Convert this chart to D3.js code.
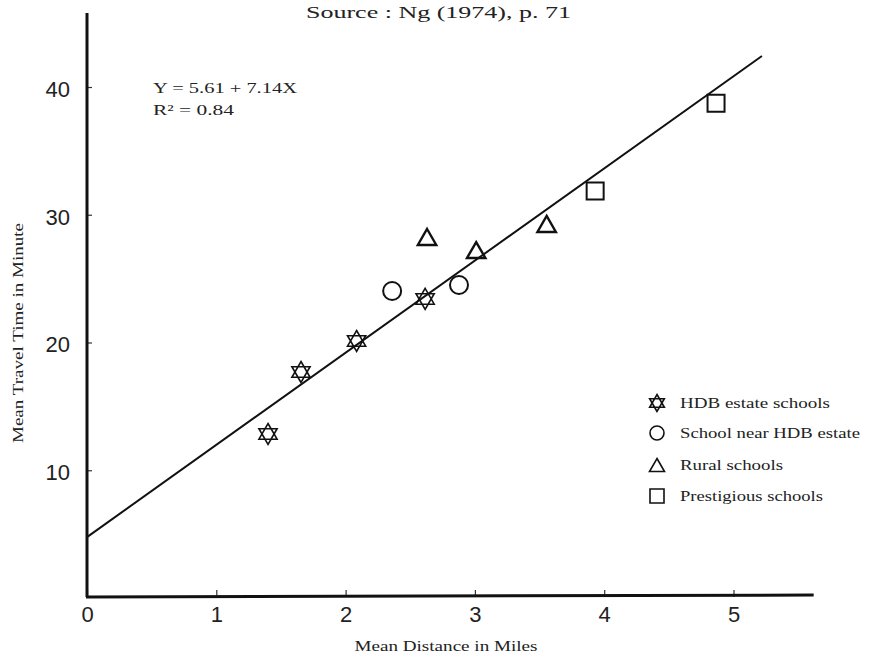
<!DOCTYPE html>
<html><head><meta charset="utf-8">
<script src="https://cdn.jsdelivr.net/npm/d3@7"></script>
<style>
body{margin:0;background:#fff;}
svg{display:block;}
</style></head>
<body>
<svg id="chart" width="869" height="659"></svg>
<script>
// ---- data ----
const xTicks = [0, 1, 2, 3, 4, 5];
const yTicks = [10, 20, 30, 40];
const hdbX = [1.40, 1.655, 2.085, 2.615];
const hdbY = [12.84, 17.69, 20.12, 23.41];
const nearX = [2.36, 2.877];
const nearY = [24.03, 24.5];
const ruralX = [2.63, 3.01, 3.555];
const ruralY = [28.26, 27.24, 29.28];
const prestX = [3.93, 4.865];
const prestY = [31.86, 38.72];
const fitX = [0, 5.22];
const fitY = [4.77, 42.43];
const legendNames = ["HDB estate schools", "School near HDB estate", "Rural schools", "Prestigious schools"];
const titleText = "Source : Ng (1974), p. 71";
const eqLines = ["Y = 5.61 + 7.14X", "R² = 0.84"];
const xTitle = "Mean Distance in Miles";
const yTitle = "Mean Travel Time in Minute";

// ---- layout ----
const svg = d3.select("#chart");
const x = d3.scaleLinear().domain([0, 5]).range([87, 733.5]);
const y = d3.scaleLinear().domain([0, 40]).range([598, 87]);
const serif = "'Liberation Serif', 'Times New Roman', serif";
const sans = "'Liberation Sans', Arial, sans-serif";

// custom symbols
const hexagram = {
  draw(ctx, size) {
    const r = Math.sqrt(size);
    for (const rot of [-Math.PI / 2, Math.PI / 2]) {
      for (let i = 0; i < 3; i++) {
        const a = rot + i * 2 * Math.PI / 3;
        const px = r * Math.cos(a), py = r * Math.sin(a);
        if (i === 0) ctx.moveTo(px, py); else ctx.lineTo(px, py);
      }
      ctx.closePath();
    }
  }
};
const triBox = {
  draw(ctx, size) {
    const w = Math.sqrt(size);
    const h = w * 0.866;
    ctx.moveTo(0, -h / 2);
    ctx.lineTo(w / 2, h / 2);
    ctx.lineTo(-w / 2, h / 2);
    ctx.closePath();
  }
};
const sq = {
  draw(ctx, size) {
    const w = Math.sqrt(size);
    ctx.rect(-w / 2, -w / 2, w, w);
  }
};
const circ = {
  draw(ctx, size) {
    const r = Math.sqrt(size) / 2;
    ctx.moveTo(r, 0);
    ctx.arc(0, 0, r, 0, 2 * Math.PI);
  }
};

const series = [
  {xs: hdbX, ys: hdbY, type: hexagram, size: 110, lsize: 72, sw: 1.6},
  {xs: nearX, ys: nearY, type: circ, size: 324, lsize: 196, sw: 2},
  {xs: ruralX, ys: ruralY, type: triBox, size: 340, lsize: 225, sw: 2.4},
  {xs: prestX, ys: prestY, type: sq, size: 289, lsize: 196, sw: 2}
];

// title
svg.append("text").attr("x", 306).attr("y", 18)
  .attr("font-family", serif).attr("font-size", 17).attr("fill", "#222")
  .attr("textLength", 265).attr("lengthAdjust", "spacingAndGlyphs")
  .text(titleText);

// axes
const yAxis = d3.axisLeft(y).tickValues(yTicks).tickSize(-5).tickPadding(17).tickFormat(d3.format("d"));
const gy = svg.append("g").attr("transform", `translate(${x(0)},0)`).call(yAxis);
gy.select(".domain").remove();
gy.selectAll("line").attr("stroke", "#333").attr("stroke-width", 1.2);
gy.selectAll("text").attr("font-family", sans).attr("font-size", 22).attr("fill", "#222").attr("dy", "0.42em");

const xAxis = d3.axisBottom(x).tickValues(xTicks).tickSize(-7).tickPadding(9).tickFormat(d3.format("d"));
const gx = svg.append("g").attr("transform", `translate(0,${y(0) - 1})`).call(xAxis);
gx.select(".domain").remove();
gx.selectAll("line").attr("stroke", "#333").attr("stroke-width", 1.2);
gx.selectAll("text").attr("font-family", sans).attr("font-size", 22).attr("fill", "#222");

// axis lines
svg.append("line").attr("x1", x(0)).attr("x2", x(0)).attr("y1", y(45.8)).attr("y2", y(0) - 1)
  .attr("stroke", "#111").attr("stroke-width", 3);
svg.append("line").attr("x1", x(0) - 1).attr("x2", x(5.62)).attr("y1", y(0) - 1).attr("y2", y(0) - 3)
  .attr("stroke", "#111").attr("stroke-width", 3);

// axis titles
svg.append("text").attr("x", 446).attr("y", 651).attr("text-anchor", "middle")
  .attr("font-family", serif).attr("font-size", 15).attr("fill", "#222")
  .attr("textLength", 183).attr("lengthAdjust", "spacingAndGlyphs")
  .text(xTitle);
svg.append("text").attr("transform", "translate(23,333) rotate(-90)").attr("text-anchor", "middle")
  .attr("font-family", serif).attr("font-size", 15).attr("fill", "#222")
  .attr("textLength", 220).attr("lengthAdjust", "spacingAndGlyphs")
  .text(yTitle);

// equation
svg.append("text").attr("x", 153).attr("y", 93)
  .attr("font-family", serif).attr("font-size", 14).attr("fill", "#222")
  .attr("textLength", 144).attr("lengthAdjust", "spacingAndGlyphs")
  .text(eqLines[0]);
svg.append("text").attr("x", 153).attr("y", 115)
  .attr("font-family", serif).attr("font-size", 14).attr("fill", "#222")
  .attr("textLength", 81).attr("lengthAdjust", "spacingAndGlyphs")
  .text(eqLines[1]);

// regression line
svg.append("path")
  .attr("d", d3.line().x(d => x(d[0])).y(d => y(d[1]))(d3.zip(fitX, fitY)))
  .attr("fill", "none").attr("stroke", "#111").attr("stroke-width", 2);

// points
series.forEach(s => {
  svg.append("g").selectAll("path").data(d3.zip(s.xs, s.ys)).join("path")
    .attr("transform", d => `translate(${x(d[0])},${y(d[1])})`)
    .attr("d", d3.symbol().type(s.type).size(s.size))
    .attr("fill", "none").attr("stroke", "#111").attr("stroke-width", s.sw);
});

// legend
const legendY = [403, 433, 465, 496];
const legendLen = [150, 180, 103, 143];
const lg = svg.append("g");
legendNames.forEach((name, i) => {
  const s = series[i];
  lg.append("path").attr("transform", `translate(657,${legendY[i]})`)
    .attr("d", d3.symbol().type(s.type).size(s.lsize))
    .attr("fill", "none").attr("stroke", "#111").attr("stroke-width", 1.6);
  lg.append("text").attr("x", 680).attr("y", legendY[i] + 5)
    .attr("font-family", serif).attr("font-size", 15).attr("fill", "#222")
    .attr("textLength", legendLen[i]).attr("lengthAdjust", "spacingAndGlyphs")
    .text(name);
});
</script>
</body></html>
